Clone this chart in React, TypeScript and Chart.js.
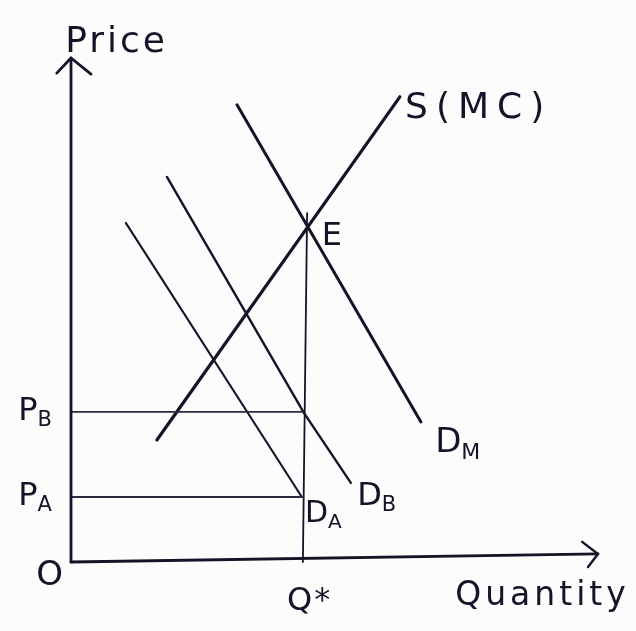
import React, { useEffect, useRef } from "react";
import { Chart, registerables } from "chart.js";

Chart.register(...registerables);

// ---- data (in diagram units: quantity 0..10, price 0..10) ----
const yAxisX = [0, 0];
const yAxisY = [0, 10];
const yArrowX = [-0.27, 0, 0.38];
const yArrowY = [9.7, 10, 9.68];
const xAxisX = [0, 10];
const xAxisY = [0, 0.16];
const xArrowX = [9.7, 10, 9.81];
const xArrowY = [0.4, 0.16, -0.1];

const supplyX = [1.63, 6.24];
const supplyY = [2.42, 9.23];
const demandMX = [3.15, 6.64];
const demandMY = [9.07, 2.78];
const demandBX = [1.82, 4.42, 5.31];
const demandBY = [7.64, 2.96, 1.57];
const demandAX = [1.04, 4.38];
const demandAY = [6.73, 1.29];

const qStar = 4.4;
const qStarLineY = [0, 6.92];
const priceB = 2.98;
const priceA = 1.29;

// labels
const labelTexts = ["Price", "S(MC)", "E", "D", "D", "D", "P", "P", "O", "Q*", "Quantity"];
const labelSubs = ["", "", "", "M", "B", "A", "B", "A", "", "", ""];
const labelX = [-0.11, 6.34, 4.76, 6.91, 5.43, 4.44, -1.0, -1.0, -0.66, 4.1, 7.29];
const labelY = [10.12, 8.81, 6.29, 2.18, 1.13, 0.79, 2.82, 1.13, -0.46, -0.95, -0.85];
const labelSize = [36, 36, 32, 34, 32, 30, 32, 32, 34, 32, 33];
const labelSpacing = [3, 8, 0, 0, 0, 0, 0, 0, 0, 2, 4];

const ink = "#141428";

function pts(xs: number[], ys: number[]) {
  return xs.map((x, i) => ({ x, y: ys[i] }));
}

function lineSet(data: { x: number; y: number }[], width: number, color = ink) {
  return {
    data,
    showLine: true,
    borderColor: color,
    backgroundColor: color,
    borderWidth: width,
    pointRadius: 0,
    borderCapStyle: "round" as const,
    borderJoinStyle: "round" as const,
    tension: 0,
    clip: false as const,
  };
}

const labelPlugin = {
  id: "diagramLabels",
  afterDatasetsDraw(chart: any) {
    const { ctx, scales } = chart;
    ctx.save();
    ctx.fillStyle = ink;
    ctx.textAlign = "left";
    ctx.textBaseline = "alphabetic";
    labelTexts.forEach((t, i) => {
      const px = scales.x.getPixelForValue(labelX[i]);
      const py = scales.y.getPixelForValue(labelY[i]);
      const size = labelSize[i];
      ctx.font = `${size}px "DejaVu Sans", sans-serif`;
      (ctx as any).letterSpacing = `${labelSpacing[i]}px`;
      ctx.fillText(t, px, py);
      const w = ctx.measureText(t).width;
      if (labelSubs[i]) {
        ctx.font = `${Math.round(size * 0.66)}px "DejaVu Sans", sans-serif`;
        (ctx as any).letterSpacing = "0px";
        ctx.fillText(labelSubs[i], px + w, py + size * 0.2);
      }
    });
    ctx.restore();
  },
};

export default function App() {
  const ref = useRef<HTMLCanvasElement | null>(null);

  useEffect(() => {
    if (!ref.current) return;
    const chart = new Chart(ref.current, {
      type: "scatter",
      data: {
        datasets: [
          lineSet(pts(yAxisX, yAxisY), 2.8),
          lineSet(pts(yArrowX, yArrowY), 2.8),
          lineSet(pts(xAxisX, xAxisY), 2.8),
          lineSet(pts(xArrowX, xArrowY), 2.4),
          lineSet(pts([0, qStar], [priceB, priceB]), 1.8, "#2a2a40"),
          lineSet(pts([0, qStar], [priceA, priceA]), 1.8, "#2a2a40"),
          lineSet(pts([qStar, qStar + 0.08], qStarLineY), 1.8),
          lineSet(pts(demandAX, demandAY), 2.1),
          lineSet(pts(demandBX, demandBY), 2.4),
          lineSet(pts(supplyX, supplyY), 3.2),
          lineSet(pts(demandMX, demandMY), 3),
        ] as any,
      },
      options: {
        animation: false,
        responsive: true,
        maintainAspectRatio: false,
        layout: { padding: { left: 71, right: 38, top: 58, bottom: 69 } },
        scales: {
          x: { type: "linear", min: 0, max: 10, display: false },
          y: { type: "linear", min: 0, max: 10, display: false },
        },
        plugins: { legend: { display: false }, tooltip: { enabled: false } },
      },
      plugins: [labelPlugin],
    });
    return () => chart.destroy();
  }, []);

  return (
    <div
      style={{
        position: "absolute",
        left: 0,
        top: 0,
        width: 636,
        height: 631,
        background: "#fdfcfc",
      }}
    >
      <canvas ref={ref} />
    </div>
  );
}
